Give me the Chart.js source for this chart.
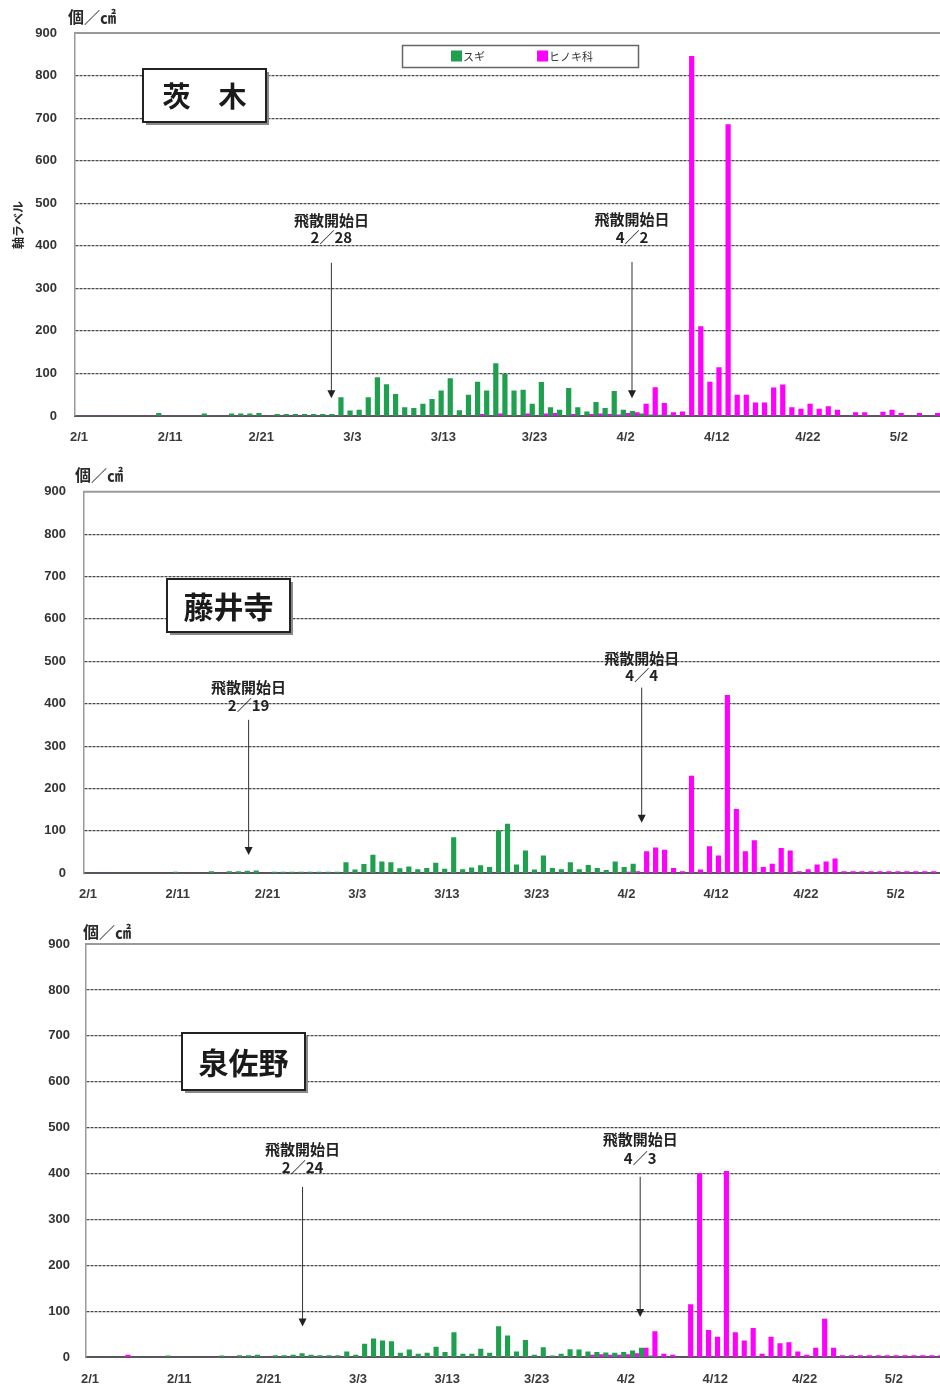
<!DOCTYPE html>
<html lang="ja">
<head>
<meta charset="utf-8">
<title>スギ・ヒノキ科花粉飛散状況</title>
<script src="https://cdn.jsdelivr.net/npm/chart.js@4/dist/chart.umd.min.js"></script>
<style>
    html, body { margin: 0; padding: 0; background: #fff; overflow: hidden; }
    #page { position: relative; width: 940px; height: 1387px; overflow: hidden; }
    .panel { position: absolute; left: 0; }
</style>
</head>
<body>
<div id="page">
    <div class="panel" style="top:0px"><canvas id="chartIbaraki" width="949" height="455"></canvas></div>
    <div class="panel" style="top:458px"><canvas id="chartFujiidera" width="945" height="452"></canvas></div>
    <div class="panel" style="top:912px"><canvas id="chartIzumisano" width="943" height="475"></canvas></div>
</div>
<script>
// days shown: 2/1 .. 5/7
const monthDays = [[2, 28], [3, 31], [4, 30], [5, 7]];
const dayLabels = [];
monthDays.forEach(([m, n]) => { for (let d = 1; d <= n; d++) dayLabels.push(m + "/" + d); });

const tickLabels = ["2/1", "2/11", "2/21", "3/3", "3/13", "3/23", "4/2", "4/12", "4/22", "5/2"];
const seriesNames = ["スギ", "ヒノキ科"];
const unitLabel = "個／㎠";

// 茨木
const ibarakiSugi = [
    0, 0, 0, 0, 0, 0, 0, 0, 0, 6,
    0, 0, 0, 0, 5, 0, 0, 5, 5, 5,
    6, 0, 4, 4, 4, 4, 4, 4, 4, 43,
    12, 14, 43, 90, 74, 51, 20, 18, 28, 39,
    59, 88, 13, 49, 80, 59, 123, 98, 59, 61,
    28, 79, 20, 14, 65, 20, 10, 32, 18, 58,
    14, 11, 5, 3, 2, 2, 0, 0, 0, 0,
    0, 0, 0, 0, 0, 0, 0, 0, 0, 0,
    0, 0, 0, 0, 0, 0, 0, 0, 0, 0,
    0, 0, 0, 0, 0, 0
];
const ibarakiHinoki = [
    0, 0, 0, 0, 0, 0, 0, 0, 0, 0,
    0, 0, 0, 0, 0, 0, 0, 0, 0, 0,
    0, 0, 0, 0, 0, 0, 0, 0, 0, 0,
    0, 0, 0, 0, 0, 0, 0, 0, 0, 0,
    0, 0, 0, 0, 4, 0, 5, 0, 0, 5,
    0, 5, 6, 0, 4, 0, 4, 5, 4, 3,
    6, 8, 28, 67, 30, 8, 10, 845, 210, 80,
    114, 685, 49, 49, 31, 31, 66, 73, 20, 16,
    28, 16, 22, 14, 0, 8, 8, 0, 9, 14,
    6, 0, 6, 0, 6, 0
];

// 藤井寺
const fujiideraSugi = [
    0, 0, 0, 0, 0, 0, 0, 0, 0, 0,
    3, 0, 0, 0, 4, 0, 4, 4, 5, 6,
    0, 3, 3, 3, 3, 3, 3, 3, 3, 25,
    8, 21, 43, 27, 25, 11, 15, 9, 12, 24,
    10, 84, 9, 13, 18, 14, 100, 116, 20, 53,
    8, 41, 12, 9, 25, 9, 19, 12, 7, 27,
    14, 22, 0, 0, 0, 0, 0, 0, 0, 0,
    0, 0, 0, 0, 0, 0, 0, 0, 0, 0,
    0, 0, 0, 0, 0, 0, 0, 0, 0, 0,
    0, 0, 0, 0, 0, 0
];
const fujiideraHinoki = [
    0, 0, 0, 0, 0, 0, 0, 0, 0, 0,
    0, 0, 0, 0, 0, 0, 0, 0, 0, 0,
    0, 0, 0, 0, 0, 0, 0, 0, 0, 0,
    0, 0, 0, 0, 0, 0, 0, 0, 0, 0,
    0, 0, 0, 0, 0, 0, 0, 0, 0, 0,
    0, 0, 0, 0, 0, 0, 0, 0, 0, 0,
    3, 4, 51, 60, 55, 12, 4, 229, 8, 63,
    41, 420, 151, 51, 77, 14, 22, 59, 53, 4,
    9, 20, 27, 34, 4, 4, 4, 4, 4, 4,
    4, 4, 4, 4, 4, 4
];

// 泉佐野
const izumisanoSugi = [
    0, 0, 0, 0, 0, 0, 0, 0, 0, 3,
    0, 0, 0, 0, 0, 3, 0, 4, 4, 5,
    0, 4, 4, 5, 8, 5, 4, 4, 4, 12,
    5, 29, 40, 36, 34, 9, 16, 7, 9, 22,
    11, 54, 7, 7, 18, 9, 67, 47, 12, 37,
    5, 21, 3, 7, 17, 16, 12, 11, 10, 9,
    11, 14, 20, 3, 0, 0, 0, 0, 0, 0,
    0, 0, 0, 0, 0, 0, 0, 0, 0, 0,
    0, 0, 0, 0, 0, 0, 0, 0, 0, 0,
    0, 0, 0, 0, 0, 0
];
const izumisanoHinoki = [
    0, 0, 0, 0, 5, 0, 0, 0, 0, 0,
    0, 0, 0, 0, 0, 0, 0, 0, 0, 0,
    0, 0, 0, 0, 0, 0, 0, 0, 0, 0,
    0, 0, 0, 0, 0, 0, 0, 0, 0, 0,
    0, 0, 0, 0, 0, 0, 0, 0, 0, 0,
    0, 0, 0, 0, 0, 0, 5, 6, 5, 5,
    6, 8, 20, 56, 7, 5, 0, 115, 400, 59,
    44, 405, 54, 36, 63, 7, 44, 30, 32, 12,
    5, 20, 83, 20, 4, 4, 4, 4, 4, 4,
    4, 4, 4, 4, 4, 4
];

const SUGI_COLOR = "#1fa04e";
const HINOKI_COLOR = "#ff00ff";
const CJK = '"Noto Sans CJK JP", sans-serif';
const LATIN = '"Liberation Sans", Arial, sans-serif';

// draws the things Excel had as shapes: title box, arrows, unit, legend
const extrasPlugin = {
    id: "extras",
    afterDraw(chart, args, opts) {
        const ctx = chart.ctx;
        const area = chart.chartArea;
        const xScale = chart.scales.x;
        const yScale = chart.scales.y;
        ctx.save();

        // top frame line (the 900 line)
        ctx.strokeStyle = "#9a9a9a";
        ctx.lineWidth = 2;
        ctx.beginPath();
        ctx.moveTo(area.left, area.top);
        ctx.lineTo(chart.width, area.top);
        ctx.stroke();

        ctx.fillStyle = "#2a2a2a";
        ctx.font = "bold 16px " + CJK;
        ctx.textAlign = "left";
        ctx.textBaseline = "middle";
        ctx.fillText(unitLabel, opts.unit.x, opts.unit.y);

        if (opts.axisTitle) {
            ctx.save();
            ctx.translate(opts.axisTitle.x, opts.axisTitle.y);
            ctx.rotate(-Math.PI / 2);
            ctx.textAlign = "center";
            ctx.font = "bold 12px " + CJK;
            ctx.fillText(opts.axisTitle.text, 0, 0);
            ctx.restore();
        }

        // station name box
        const t = opts.title;
        ctx.fillStyle = "#8a8a8a";
        ctx.fillRect(t.x + 3, t.y + 3, t.w, t.h);
        ctx.fillStyle = "#fff";
        ctx.fillRect(t.x, t.y, t.w, t.h);
        ctx.strokeStyle = "#222";
        ctx.lineWidth = 2;
        ctx.strokeRect(t.x, t.y, t.w, t.h);
        ctx.fillStyle = "#1a1a1a";
        ctx.font = "bold " + t.size + "px " + CJK;
        ctx.textAlign = "center";
        ctx.fillText(t.text, t.x + t.w / 2, t.y + t.h / 2 + 1);

        // 飛散開始日 notes with arrows
        opts.notes.forEach(function (n) {
            const x = xScale.getPixelForValue(n.at);
            ctx.fillStyle = "#222";
            ctx.font = "bold 15px " + CJK;
            ctx.textAlign = "center";
            ctx.fillText("飛散開始日", x, yScale.getPixelForValue(n.headY));
            ctx.fillText(n.date, x, yScale.getPixelForValue(n.dateY));
            const y1 = yScale.getPixelForValue(n.from);
            const y2 = yScale.getPixelForValue(n.to);
            ctx.strokeStyle = "#333";
            ctx.lineWidth = 1;
            ctx.beginPath();
            ctx.moveTo(x, y1);
            ctx.lineTo(x, y2 - 6);
            ctx.stroke();
            ctx.beginPath();
            ctx.moveTo(x - 4, y2 - 8);
            ctx.lineTo(x + 4, y2 - 8);
            ctx.lineTo(x, y2);
            ctx.closePath();
            ctx.fill();
        });

        if (opts.legend) {
            const L = opts.legend;
            ctx.fillStyle = "#fff";
            ctx.fillRect(L.x, L.y, L.w, L.h);
            ctx.strokeStyle = "#666";
            ctx.lineWidth = 1.5;
            ctx.strokeRect(L.x, L.y, L.w, L.h);
            ctx.font = "11px " + CJK;
            ctx.textAlign = "left";
            chart.data.datasets.forEach(function (ds, i) {
                const ix = L.items[i];
                ctx.fillStyle = ds.backgroundColor;
                ctx.fillRect(ix, L.y + 5, 11, 11);
                ctx.fillStyle = "#333";
                ctx.fillText(ds.label, ix + 12, L.y + L.h / 2);
            });
        }
        ctx.restore();
    }
};

function CreatePollenChart(chartID, sugiArr, hinokiArr, layoutCfg, extras) {
    const canvas = document.getElementById(chartID);
    return new Chart(canvas, {
        type: "bar",
        data: {
            labels: dayLabels,
            datasets: [
                { label: seriesNames[0], data: sugiArr, backgroundColor: SUGI_COLOR, borderWidth: 0 },
                { label: seriesNames[1], data: hinokiArr, backgroundColor: HINOKI_COLOR, borderWidth: 0 }
            ]
        },
        options: {
            responsive: false,
            animation: false,
            datasets: { bar: { categoryPercentage: 1.0, barPercentage: 1.0 } },
            layout: { padding: { top: layoutCfg.padTop, right: 0, bottom: 0, left: 0 } },
            plugins: {
                legend: { display: false },
                tooltip: { enabled: false },
                extras: extras
            },
            scales: {
                x: {
                    grid: { display: false, drawTicks: false },
                    border: { display: true, color: "#555", width: 2 },
                    ticks: {
                        autoSkip: false,
                        maxRotation: 0,
                        minRotation: 0,
                        padding: layoutCfg.xPad,
                        color: "#3a3a3a",
                        font: { family: LATIN, size: 13, weight: "bold" },
                        callback: function (value) {
                            const lab = this.getLabelForValue(value);
                            return tickLabels.includes(lab) ? lab : "";
                        }
                    },
                    afterFit: function (scale) {
                        scale.height = layoutCfg.xHeight;
                        // keep the plot running to the canvas edge
                        scale.paddingLeft = 0;
                        scale.paddingRight = 0;
                    }
                },
                y: {
                    min: 0,
                    max: 900,
                    ticks: {
                        stepSize: 100,
                        padding: layoutCfg.yPad,
                        color: "#333",
                        font: { family: LATIN, size: 13, weight: "bold" }
                    },
                    grid: {
                        drawTicks: false,
                        lineWidth: 1.2,
                        color: function (c) {
                            const v = c.tick ? c.tick.value : null;
                            return (v === 0 || v === 900) ? "rgba(0,0,0,0)" : "#4a4a4a";
                        }
                    },
                    border: { display: true, color: "#9a9a9a", width: 1.5, dash: [3, 1] },
                    afterFit: function (scale) { scale.width = layoutCfg.plotLeft; }
                }
            }
        },
        plugins: [extrasPlugin]
    });
}

CreatePollenChart("chartIbaraki", ibarakiSugi, ibarakiHinoki,
    { padTop: 33, plotLeft: 74.5, xHeight: 39, xPad: 14, yPad: 17.5 },
    {
        unit: { x: 68, y: 17 },
        axisTitle: { text: "軸ラベル", x: 18, y: 225 },
        title: { text: "茨　木", x: 143, y: 69, w: 123, h: 53, size: 28 },
        legend: { x: 402.5, y: 45.5, w: 236, h: 22, items: [451, 537] },
        notes: [
            { at: 27.7, date: "2／28", headY: 460, dateY: 420, from: 360, to: 42 },
            { at: 60.7, date: "4／2", headY: 462, dateY: 421, from: 362, to: 42 }
        ]
    });

CreatePollenChart("chartFujiidera", fujiideraSugi, fujiideraHinoki,
    { padTop: 33.7, plotLeft: 83.5, xHeight: 36.7, xPad: 13, yPad: 17.5 },
    {
        unit: { x: 75, y: 17 },
        title: { text: "藤井寺", x: 167, y: 121, w: 123, h: 53, size: 30 },
        notes: [
            { at: 17.9, date: "2／19", headY: 439, dateY: 397, from: 362, to: 43 },
            { at: 61.7, date: "4／4", headY: 508, dateY: 468, from: 438, to: 119 }
        ]
    });

CreatePollenChart("chartIzumisano", izumisanoSugi, izumisanoHinoki,
    { padTop: 32, plotLeft: 85.5, xHeight: 29.7, xPad: 14, yPad: 15.5 },
    {
        unit: { x: 83, y: 20 },
        title: { text: "泉佐野", x: 182, y: 121, w: 123, h: 57, size: 30 },
        notes: [
            { at: 23.8, date: "2／24", headY: 454, dateY: 414, from: 371, to: 67 },
            { at: 61.6, date: "4／3", headY: 474, dateY: 434, from: 393, to: 88 }
        ]
    });
</script>
</body>
</html>
